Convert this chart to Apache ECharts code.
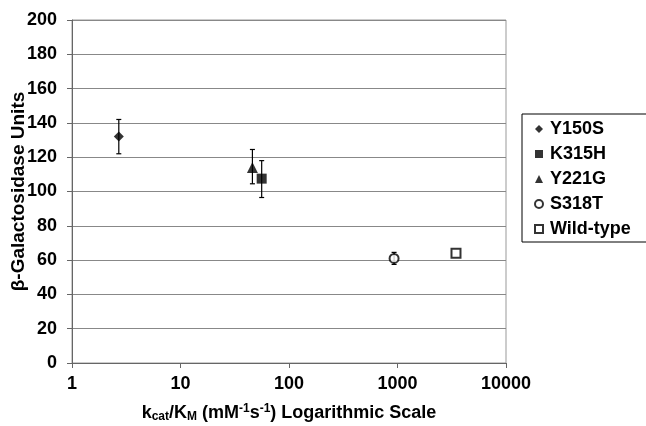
<!DOCTYPE html>
<html><head><meta charset="utf-8">
<script src="https://cdn.jsdelivr.net/npm/echarts@6/dist/echarts.min.js"></script>
<style>html,body{margin:0;padding:0;background:#fff}#c{width:646px;height:426px}</style>
</head><body><div id="c"></div>
<script>
const seriesNames = ['Y150S','K315H','Y221G','S318T','Wild-type'];
const kcatKm = [2.7, 56, 46, 930, 3460];
const galUnits = [132, 107.5, 114, 61, 64];
const errLow = [122, 96.5, 104.5, 57.5, null];
const errHigh = [142, 118, 124.5, 64.5, null];
const symbols = ['diamond','rect','triangle','emptyCircle','emptyRect'];
const symbolSizes = [10, 10, 11, 9, 9];
const xTicks = [1, 10, 100, 1000, 10000];
const yTicks = [0,20,40,60,80,100,120,140,160,180,200];

const chart = echarts.init(document.getElementById('c'));
const font = 'Liberation Sans, Arial, sans-serif';
const series = seriesNames.map((n,i)=>({
  name:n, type:'scatter', symbol:symbols[i], symbolSize:symbolSizes[i],
  itemStyle:{color:'#000', borderWidth: symbols[i].startsWith('empty')?1.2:0},
  data:[[kcatKm[i], galUnits[i]]], z:5
}));
const errData = [];
for (let i=0;i<seriesNames.length;i++) if (errLow[i]!=null) errData.push([kcatKm[i], errLow[i], errHigh[i]]);
series.push({
  type:'custom', name:'err', silent:true, z:3,
  renderItem:(params, api)=>{
    const x = api.value(0), lo = api.value(1), hi = api.value(2);
    const p1 = api.coord([x, lo]), p2 = api.coord([x, hi]);
    const w = 2.5;
    const st = {stroke:'#000', lineWidth:1.2};
    return {type:'group', children:[
      {type:'line', shape:{x1:p1[0],y1:p1[1],x2:p2[0],y2:p2[1]}, style:st},
      {type:'line', shape:{x1:p1[0]-w,y1:p1[1],x2:p1[0]+w,y2:p1[1]}, style:st},
      {type:'line', shape:{x1:p2[0]-w,y1:p2[1],x2:p2[0]+w,y2:p2[1]}, style:st}
    ]};
  },
  encode:{x:0, y:[1,2]},
  data: errData
});
chart.setOption({
  animation:false,
  grid:{left:72, right:140, top:20, bottom:63, show:true, borderColor:'#999', borderWidth:1,
        containLabel:false, outerBoundsMode:'none'},
  legend:{
    data: seriesNames.map((n,i)=>({name:n, icon: symbols[i]})),
    orient:'vertical', left:522, top:114, width:124,
    itemWidth:8, itemHeight:8, itemGap:7,
    padding:[6,30,4,12],
    borderColor:'#000', borderWidth:1,
    textStyle:{fontFamily:font, fontWeight:'bold', fontSize:18, color:'#000', padding:[0,0,0,2]}
  },
  xAxis:{
    type:'log', logBase:10, min:1, max:10000,
    axisLine:{show:true, onZero:false, lineStyle:{color:'#666', width:1}},
    axisTick:{show:true, length:5, lineStyle:{color:'#666'}},
    splitLine:{show:false},
    minorTick:{show:false},
    axisLabel:{fontFamily:font, fontWeight:'bold', fontSize:18, color:'#000', margin:12,
      formatter:v=>String(Math.round(v))},
    name:'{n|k}{sub|cat}{n|/K}{sub|M}{n| (mM}{sup|-1}{n|s}{sup|-1}{n|) Logarithmic Scale}',
    nameLocation:'middle', nameGap:40, nameMoveOverlap:false,
    nameTextStyle:{fontFamily:font, fontWeight:'bold', fontSize:18, color:'#000',
      rich:{
        n:{fontFamily:font, fontWeight:'bold', fontSize:18, color:'#000'},
        sub:{fontFamily:font, fontWeight:'bold', fontSize:12, color:'#000', padding:[8,0,0,0]},
        sup:{fontFamily:font, fontWeight:'bold', fontSize:12, color:'#000', padding:[0,0,8,0]}
      }}
  },
  yAxis:{
    type:'value', min:0, max:200, interval:20,
    axisLine:{show:true, lineStyle:{color:'#666', width:1}},
    axisTick:{show:true, length:5, lineStyle:{color:'#666'}},
    splitLine:{show:true, lineStyle:{color:'#888', width:1}},
    axisLabel:{fontFamily:font, fontWeight:'bold', fontSize:18, color:'#000', margin:15},
    name:'β-Galactosidase Units', nameLocation:'middle', nameGap:44, nameRotate:90, nameMoveOverlap:false,
    nameTextStyle:{fontFamily:font, fontWeight:'bold', fontSize:19, color:'#000'}
  },
  series: series
});
</script></body></html>
